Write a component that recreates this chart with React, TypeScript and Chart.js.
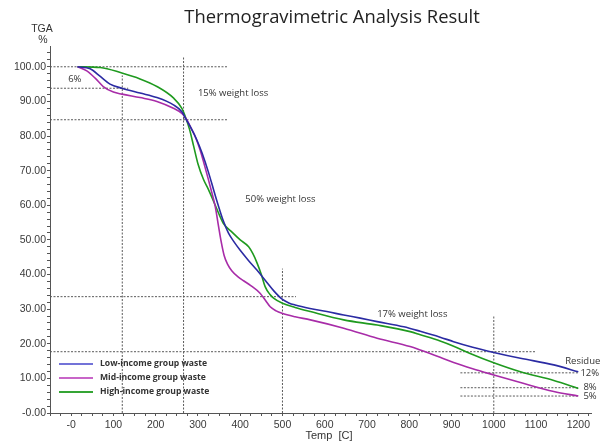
import React, { useEffect, useRef } from 'react';
import { Chart, registerables } from 'chart.js';
Chart.register(...registerables);

const TITLE = 'Thermogravimetric Analysis Result';
const seriesNames = ['Low-income group waste', 'Mid-income group waste', 'High-income group waste'];
const seriesColors = ['#2b2ba3', '#a82ca8', '#1f9a1f'];
const legendColors = ['#7373d8', '#c865c8', '#35a535'];

const lowT = [15, 45, 69, 92, 120, 163, 203, 242, 262, 272, 285, 297, 310, 325, 337, 348, 360, 372, 385, 400, 420, 440, 460, 480, 500, 515, 530, 565, 605, 645, 684, 724, 787, 826, 873, 905, 950, 1000, 1063, 1142, 1200];
const lowW = [100, 99.4, 97.2, 95, 93.8, 92.4, 91.1, 89, 87, 84.8, 82, 79, 75, 69.5, 64.5, 60, 55.5, 52, 49.5, 47, 44, 41.2, 38.2, 35.2, 32.8, 31.8, 31.2, 30.2, 29.3, 28.3, 27.4, 26.4, 24.9, 23.6, 21.9, 20.6, 19, 17.5, 15.8, 13.9, 11.9];

const midT = [15, 37, 57, 76, 100, 120, 163, 203, 242, 262, 272, 285, 293, 305, 319, 330, 341, 348, 355, 362, 370, 380, 395, 408, 425, 447, 460, 471, 485, 499, 530, 566, 645, 724, 802, 826, 873, 905, 950, 1000, 1063, 1142, 1200];
const midW = [100, 98.8, 96.7, 94.3, 92.7, 92.1, 91.1, 90, 88, 86.5, 85, 82, 80, 76, 70, 65, 59.6, 54.5, 49.5, 45.5, 43, 41.1, 39.3, 38.2, 36.8, 34.6, 32.5, 30.7, 29.5, 28.8, 27.8, 26.9, 24.5, 21.6, 19.2, 18.2, 16.1, 14.6, 12.8, 11, 8.8, 6.2, 4.9];

const highT = [15, 69, 120, 163, 203, 242, 262, 272, 280, 290, 300, 313, 325, 341, 360, 380, 400, 420, 430, 440, 450, 459, 470, 479, 500, 530, 566, 645, 724, 802, 826, 873, 905, 944, 1000, 1063, 1142, 1200];
const highW = [100, 99.8, 98.2, 96.5, 94.3, 91, 88, 85, 82, 77, 72, 67.5, 64.5, 60, 54.8, 52.3, 50, 48, 46, 43.3, 40, 36.5, 34.3, 33.2, 31.7, 30.5, 29.3, 26.9, 25.4, 23.5, 22.6, 20.8, 19.3, 17.2, 14.5, 11.9, 9.4, 7.1];

// guide lines: [t1, w1, t2, w2]
const guideLines: number[][] = [
  [-50, 100, 370, 100],
  [-50, 93.8, 135, 93.8],
  [-50, 84.7, 370, 84.7],
  [121, 0, 121, 97.5],
  [266, 0, 266, 103],
  [500, 0, 500, 41.7],
  [-50, 33.6, 532, 33.6],
  [-50, 17.7, 1100, 17.7],
  [1000, 0, 1000, 28],
  [921, 11.6, 1200, 11.6],
  [921, 7.3, 1200, 7.3],
  [921, 4.9, 1200, 4.9],
];

// annotation texts: label, t, w
const noteLabels = ['6%', '15% weight loss', '50% weight loss', '17% weight loss', 'Residue', '12%', '8%', '5%'];
const noteT = [-7, 300, 412, 724, 1169, 1205, 1212, 1212];
const noteW = [96.5, 92.2, 61.8, 28.6, 15, 11.6, 7.5, 4.8];

const xTickValues = Array.from({ length: 52 }, (_, i) => -50 + i * 25);
const xTickLabels = [0, 100, 200, 300, 400, 500, 600, 700, 800, 900, 1000, 1100, 1200];
const yTickValues = Array.from({ length: 53 }, (_, i) => i * 2);
const yTickLabels = [0, 10, 20, 30, 40, 50, 60, 70, 80, 90, 100];

export default function App() {
  const ref = useRef<HTMLCanvasElement>(null);
  useEffect(() => {
    const canvas = ref.current!;
    const mk = (t: number[], w: number[]) => t.map((v, i) => ({ x: v, y: w[i] }));
    const curveSets = [mk(lowT, lowW), mk(midT, midW), mk(highT, highW)].map((d, i) => ({
      label: seriesNames[i],
      data: d,
      borderColor: seriesColors[i],
      borderWidth: 1.6,
      pointRadius: 0,
      cubicInterpolationMode: 'monotone' as const,
      fill: false,
    }));
    const guideSets = guideLines.map((g) => ({
      label: 'guide',
      data: [{ x: g[0], y: g[1] }, { x: g[2], y: g[3] }],
      borderColor: '#5a5a5a',
      borderWidth: 1,
      borderDash: [2, 1.5],
      pointRadius: 0,
      fill: false,
    }));

    const deco = {
      id: 'deco',
      afterDraw(chart: any) {
        const ctx = chart.ctx;
        const xs = chart.scales.x;
        const ys = chart.scales.y;
        ctx.save();
        // title
        ctx.fillStyle = '#222';
        ctx.font = '18.4px "Open Sans"';
        ctx.textAlign = 'center';
        ctx.textBaseline = 'middle';
        ctx.fillText(TITLE, 332, 18);
        // axis captions
        ctx.fillStyle = '#333';
        ctx.font = '10.5px "Liberation Sans"';
        ctx.fillText('TGA', 42, 29);
        ctx.fillText('%', 43, 40);
        ctx.font = '11px "Liberation Sans"';
        ctx.fillText('Temp  [C]', 329, 436);
        // notes
        ctx.font = '9.5px "Open Sans"';
        ctx.textAlign = 'left';
        ctx.fillStyle = '#333';
        noteLabels.forEach((s, i) => {
          ctx.fillText(s, xs.getPixelForValue(noteT[i]), ys.getPixelForValue(noteW[i]));
        });
        // legend
        const ly = [364, 378, 392];
        seriesNames.forEach((s, i) => {
          ctx.strokeStyle = legendColors[i];
          ctx.lineWidth = 2;
          ctx.beginPath();
          ctx.moveTo(59, ly[i]);
          ctx.lineTo(93, ly[i]);
          ctx.stroke();
          ctx.fillStyle = '#333';
          ctx.font = 'bold 8.6px "Open Sans"';
          ctx.fillText(s, 100, ly[i]);
        });
        ctx.restore();
      },
    };

    const chart = new Chart(canvas, {
      type: 'line',
      data: { datasets: [...curveSets, ...guideSets] as any },
      options: {
        animation: false,
        responsive: false,
        devicePixelRatio: 1,
        layout: { padding: { top: 46, right: 15, left: 0, bottom: 0 } },
        plugins: { legend: { display: false }, tooltip: { enabled: false }, title: { display: false } },
        scales: {
          x: {
            type: 'linear',
            min: -50,
            max: 1230,
            afterBuildTicks: (s: any) => { s.ticks = xTickValues.map((v) => ({ value: v })); },
            afterFit: (s: any) => { s.height = 28; },
            grid: { drawOnChartArea: false, drawTicks: true, tickLength: 3, color: '#555' },
            border: { color: '#555', width: 1 },
            ticks: {
              autoSkip: false,
              maxRotation: 0,
              padding: 3,
              color: '#3a3a3a',
              font: { family: 'Liberation Sans', size: 10.5 },
              callback: (v: any) => (xTickLabels.includes(v) ? (v === 0 ? '-0' : String(v)) : ''),
            },
          },
          y: {
            type: 'linear',
            min: 0,
            max: 106,
            afterBuildTicks: (s: any) => { s.ticks = yTickValues.map((v) => ({ value: v })); },
            afterFit: (s: any) => { s.width = 50; },
            grid: { drawOnChartArea: false, drawTicks: true, tickLength: 3, color: '#555' },
            border: { color: '#555', width: 1 },
            ticks: {
              autoSkip: false,
              padding: 1,
              color: '#3a3a3a',
              font: { family: 'Liberation Sans', size: 10.5 },
              callback: (v: any) => (yTickLabels.includes(v) ? (v === 0 ? '-0.00' : Number(v).toFixed(2)) : ''),
            },
          },
        },
      },
      plugins: [deco],
    });
    return () => chart.destroy();
  }, []);
  return (
    <div style={{ position: 'fixed', left: 0, top: 0, width: 606, height: 441, background: '#fff' }}>
      <canvas ref={ref} width={606} height={441} style={{ width: 606, height: 441 }} />
    </div>
  );
}
